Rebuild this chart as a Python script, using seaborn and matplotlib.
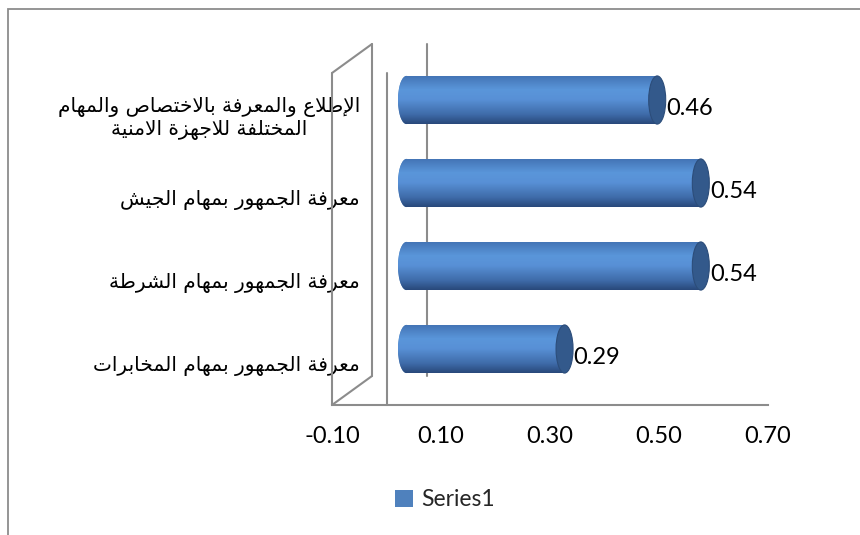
import numpy as np
import pandas as pd
import matplotlib
matplotlib.use("Agg")
import matplotlib.pyplot as plt
import seaborn as sns
from matplotlib.transforms import ScaledTranslation, IdentityTransform
from matplotlib.patches import Ellipse, Rectangle, Patch
from matplotlib.colors import LinearSegmentedColormap
from matplotlib.lines import Line2D

# ---------------- data ----------------
categories = [
    "الإطلاع والمعرفة بالاختصاص والمهام\nالمختلفة للاجهزة الامنية",
    "معرفة الجمهور بمهام الجيش",
    "معرفة الجمهور بمهام الشرطة",
    "معرفة الجمهور بمهام المخابرات",
]
values = [0.46, 0.54, 0.54, 0.29]
xticks = [-0.10, 0.10, 0.30, 0.50, 0.70]
series_name = "Series1"

# ---------------- minimal Arabic shaping (no raqm in matplotlib) ----------------
_FOUR = {'ب': 0xFE8F, 'ت': 0xFE95, 'ث': 0xFE99, 'ج': 0xFE9D, 'ح': 0xFEA1, 'خ': 0xFEA5,
         'س': 0xFEB1, 'ش': 0xFEB5, 'ص': 0xFEB9, 'ض': 0xFEBD, 'ط': 0xFEC1, 'ظ': 0xFEC5,
         'ع': 0xFEC9, 'غ': 0xFECD, 'ف': 0xFED1, 'ق': 0xFED5, 'ك': 0xFED9, 'ل': 0xFEDD,
         'م': 0xFEE1, 'ن': 0xFEE5, 'ه': 0xFEE9, 'ي': 0xFEF1}
_TWO = {'آ': 0xFE81, 'أ': 0xFE83, 'ؤ': 0xFE85, 'إ': 0xFE87, 'ا': 0xFE8D, 'ة': 0xFE93,
        'د': 0xFEA9, 'ذ': 0xFEAB, 'ر': 0xFEAD, 'ز': 0xFEAF, 'و': 0xFEED, 'ى': 0xFEEF}
_LAMALEF = {'آ': 0xFEF5, 'أ': 0xFEF7, 'إ': 0xFEF9, 'ا': 0xFEFB}


def _is_ar(c):
    return c in _FOUR or c in _TWO


def shape_line(text):
    res = []
    n = len(text)
    i = 0
    while i < n:
        c = text[i]
        if not _is_ar(c):
            res.append(c)
            i += 1
            continue
        prev = text[i - 1] if i > 0 else None
        prev_joins = prev is not None and prev in _FOUR
        if c == 'ل' and i + 1 < n and text[i + 1] in _LAMALEF:
            base = _LAMALEF[text[i + 1]]
            res.append(chr(base + 1 if prev_joins else base))
            i += 2
            continue
        nxt = text[i + 1] if i + 1 < n else None
        next_ar = nxt is not None and _is_ar(nxt)
        if c in _FOUR:
            b = _FOUR[c]
            if prev_joins and next_ar:
                g = b + 3
            elif prev_joins:
                g = b + 1
            elif next_ar:
                g = b + 2
            else:
                g = b
        else:
            b = _TWO[c]
            g = b + 1 if prev_joins else b
        res.append(chr(g))
        i += 1
    return "".join(res)[::-1]


def shape(text):
    return "\n".join(shape_line(t) for t in text.split("\n"))


# ---------------- figure ----------------
sns.set_theme(style="white")
plt.rcParams["font.family"] = ["Lato", "DejaVu Sans"]

W, H = 860, 535
fig = plt.figure(figsize=(W / 100, H / 100), dpi=100)
fig.patch.set_facecolor("white")

ax_left, ax_right, ax_top, ax_bot = 332, 768, 73, 405
ax = fig.add_axes([ax_left / W, 1 - ax_bot / H, (ax_right - ax_left) / W, (ax_bot - ax_top) / H])
ax.set_facecolor("none")

shaped = [shape(c) for c in categories]
df = pd.DataFrame({"label": shaped, "value": values})

sns.barplot(data=df, x="value", y="label", orient="h", width=0.58,
            color="#4f81bd", saturation=1, ax=ax, zorder=2)

ax.set_xlim(-0.10, 0.70)
ax.set_ylim(3.5, -0.5)

grid_col = "#8c8c8c"
front = ax.transData
mid = ax.transData + ScaledTranslation(20 / 100, 14.5 / 100, fig.dpi_scale_trans)
back = ax.transData + ScaledTranslation(40 / 100, 29 / 100, fig.dpi_scale_trans)

# cylinder gradient
cyl = LinearSegmentedColormap.from_list("cyl", [
    (0.0, "#4272b3"), (0.30, "#5a96da"), (0.50, "#5890d6"),
    (0.80, "#3f6caa"), (1.0, "#28487a")])
grad = np.linspace(0, 1, 256).reshape(-1, 1)

ew = 17 / 545.0  # ellipse width in data units
for p in list(ax.patches):
    x0, y0 = p.get_x(), p.get_y()
    w, h = p.get_width(), p.get_height()
    yc = y0 + h / 2
    p.set_transform(mid)
    p.set_edgecolor("none")
    p.set_zorder(2)
    le = Ellipse((x0, yc), ew, h, transform=mid, facecolor="#4f81bd",
                 edgecolor="none", zorder=2)
    ax.add_patch(le)
    for clip in (p, le):
        im = ax.imshow(grad, cmap=cyl, aspect="auto", extent=(x0 - ew, x0 + w, y0 + h, y0),
                       origin="upper", interpolation="bilinear", zorder=2.5)
        im.set_transform(mid)
        im.set_clip_path(clip)
    cap = Ellipse((x0 + w, yc), ew, h, transform=mid, facecolor="#33598b",
                  edgecolor="#2c4d7a", linewidth=0.8, zorder=3)
    ax.add_patch(cap)
    ax.text(x0 + w, yc, f"{w:.2f}",
            transform=front + ScaledTranslation(29 / 100, 6 / 100, fig.dpi_scale_trans),
            ha="left", va="center", fontsize=17, color="black", family="Lato", zorder=5)

ax.set_xlim(-0.10, 0.70)
ax.set_ylim(3.5, -0.5)

# 3D wall and axis lines
lk = dict(color=grid_col, linewidth=1.5, clip_on=False, zorder=1)
ax.plot([-0.10, -0.10], [-0.5, 3.5], transform=front, **lk)
ax.plot([-0.10, -0.10], [-0.5, 3.5], transform=back, **lk)
ax.plot([0, 0], [-0.5, 3.5], transform=front, **lk)
ax.plot([0, 0], [-0.5, 3.5], transform=back, **lk)
for yy in (-0.5, 3.5):
    p1 = front.transform((-0.10, yy))
    p2 = back.transform((-0.10, yy))
    fig.add_artist(Line2D([p1[0], p2[0]], [p1[1], p2[1]], transform=IdentityTransform(),
                          color=grid_col, linewidth=1.5))

for s in ("top", "right", "left"):
    ax.spines[s].set_visible(False)
ax.spines["bottom"].set_color(grid_col)
ax.spines["bottom"].set_linewidth(1.5)

ax.set_xticks(xticks)
ax.set_xticklabels([f"{t:.2f}" for t in xticks], fontsize=17, family="Lato")
ax.tick_params(axis="x", length=0, pad=15, colors="black")
ax.set_yticks(range(len(shaped)))
ax.set_yticklabels(shaped, fontsize=14.5, family="DejaVu Sans")
ax.tick_params(axis="y", length=0, pad=-20, colors="black")
for t in ax.get_yticklabels():
    t.set_multialignment("center")
ax.set_xlabel("")
ax.set_ylabel("")
ax.grid(False)

# legend
handle = Patch(facecolor="#4f81bd", edgecolor="none", label=series_name)
fig.legend(handles=[handle], loc="center", bbox_to_anchor=(445 / W, 1 - 500 / H),
           frameon=False, handlelength=0.8, handleheight=0.8,
           handletextpad=0.35, prop={"family": "Lato", "size": 16.5})

# chart border (extends beyond the image on the right and bottom)
fig.add_artist(Rectangle((8 / W, -0.2), 1.5, (1 - 9 / H) + 0.2, transform=fig.transFigure,
                         facecolor="none", edgecolor=grid_col, linewidth=1.3))

fig.savefig("out.png", dpi=100, facecolor="white")
